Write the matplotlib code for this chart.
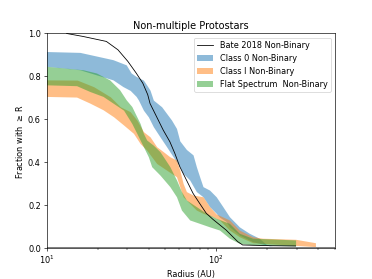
import numpy as np
import matplotlib
matplotlib.use("Agg")
import matplotlib.pyplot as plt

# Bate 2018 curve
bate_r = [13.15, 16.46, 22.53, 26.37, 30.17, 33.75, 36.92, 39.5, 40.75, 44.58, 48.76,
          53.34, 57.05, 61.03, 66.76, 73.03, 79.89, 87.4, 95.6, 104.6, 114.4, 125.2,
          133.9, 143.2, 214.5, 293.7]
bate_f = [1.0, 0.986, 0.963, 0.924, 0.87, 0.816, 0.769, 0.715, 0.674, 0.612, 0.55,
          0.496, 0.442, 0.38, 0.318, 0.256, 0.209, 0.163, 0.135, 0.11, 0.085, 0.054,
          0.031, 0.0155, 0.012, 0.011]

# Class 0 band
c0_up_r = [10, 15.74, 24.65, 29.5, 31.55, 33.75, 37.25, 38.96, 40.75, 42.62, 47.7,
           51.0, 54.56, 58.35, 61.03, 66.76, 73.03, 76.4, 79.89, 83.6, 91.4, 100,
           109.4, 119.7, 130.9, 136.9, 156.7, 179.2, 196.1, 214.5]
c0_up_f = [0.916, 0.912, 0.878, 0.854, 0.816, 0.80, 0.783, 0.76, 0.736, 0.69, 0.659,
           0.628, 0.597, 0.558, 0.50, 0.46, 0.435, 0.38, 0.333, 0.287, 0.271, 0.24,
           0.194, 0.147, 0.116, 0.10, 0.07, 0.047, 0.02, 0.008]
c0_lo_r = [10, 15.74, 24.65, 28.2, 31.13, 33.75, 34.83, 37.25, 39.84, 42.62, 46.63,
           51.0, 55.79, 61.03, 63.83, 69.8, 76.4, 83.6, 91.4, 100, 104.6, 114.4,
           119.7, 136.9, 163.9, 196.1, 214.5]
c0_lo_f = [0.847, 0.831, 0.784, 0.753, 0.735, 0.707, 0.69, 0.643, 0.612, 0.566, 0.519,
           0.473, 0.426, 0.38, 0.349, 0.318, 0.264, 0.24, 0.194, 0.163, 0.145, 0.125,
           0.10, 0.062, 0.031, 0.016, 0.008]

# Class I band
c1_up_r = [10, 15.18, 19.0, 23.78, 27.2, 31.13, 34.06, 37.25, 40.75, 44.58, 48.76,
           53.34, 58.35, 61.03, 63.83, 66.76, 73.03, 83.6, 91.4, 100, 119.7, 136.9,
           163.9, 187.5, 293.7, 384.5]
c1_up_f = [0.784, 0.783, 0.752, 0.705, 0.659, 0.636, 0.597, 0.543, 0.519, 0.473, 0.45,
           0.426, 0.411, 0.364, 0.302, 0.264, 0.248, 0.24, 0.194, 0.16, 0.132, 0.085,
           0.054, 0.047, 0.042, 0.026]
c1_lo_r = [10, 15.04, 18.0, 21.54, 24.87, 28.46, 32.56, 35.62, 38.96, 44.58, 51.0,
           58.35, 63.83, 69.8, 76.4, 83.6, 95.6, 104.6, 119.7, 136.9, 163.9, 384.5]
c1_lo_f = [0.707, 0.704, 0.676, 0.645, 0.612, 0.574, 0.535, 0.488, 0.457, 0.395, 0.364,
           0.333, 0.24, 0.209, 0.178, 0.163, 0.147, 0.132, 0.085, 0.054, 0.026, 0.008]

# Flat Spectrum band
fs_up_r = [10, 16.46, 19.7, 23.56, 26.97, 29.5, 31.83, 33.3, 35.62, 37.25, 38.96,
           42.62, 46.63, 53.34, 58.35, 62.42, 66.76, 76.4, 87.4, 100, 119.7, 136.9,
           163.9, 293.7]
fs_up_f = [0.847, 0.831, 0.816, 0.784, 0.738, 0.691, 0.66, 0.628, 0.581, 0.535, 0.504,
           0.48, 0.45, 0.38, 0.318, 0.264, 0.225, 0.194, 0.163, 0.14, 0.116, 0.07,
           0.047, 0.039]
fs_lo_r = [10, 15.04, 18.0, 21.54, 24.65, 28.46, 31.83, 34.06, 37.25, 39.84, 41.68,
           46.63, 53.34, 58.35, 62.42, 69.8, 79.89, 91.4, 104.6, 119.7, 136.9, 163.9,
           293.7]
fs_lo_f = [0.761, 0.757, 0.73, 0.707, 0.676, 0.643, 0.581, 0.535, 0.473, 0.426, 0.38,
           0.341, 0.287, 0.24, 0.178, 0.132, 0.116, 0.10, 0.085, 0.047, 0.023, 0.016,
           0.011]


def band(ax, r_up, f_up, r_lo, f_lo, color, label):
    # common radius grid so both edges can be filled together
    grid = np.union1d(r_up, r_lo)
    grid = grid[grid <= max(r_up[-1], r_lo[-1])]
    lg = np.log10(grid)
    up = np.interp(lg, np.log10(r_up), f_up)
    lo = np.interp(lg, np.log10(r_lo), f_lo)
    ax.fill_between(grid, lo, up, color=color, alpha=0.5, lw=0, label=label)


fig, ax = plt.subplots(figsize=(6.4, 4.8), dpi=58.125)

ax.plot(bate_r, bate_f, color="black", lw=1, label="Bate 2018 Non-Binary")
band(ax, c0_up_r, c0_up_f, c0_lo_r, c0_lo_f, "C0", "Class 0 Non-Binary")
band(ax, c1_up_r, c1_up_f, c1_lo_r, c1_lo_f, "C1", "Class I Non-Binary")
band(ax, fs_up_r, fs_up_f, fs_lo_r, fs_lo_f, "C2", "Flat Spectrum  Non-Binary")
ax.axhline(0, color="gray", lw=2.5, zorder=1)

ax.set_xscale("log")
ax.set_xlim(10, 500)
ax.set_ylim(0, 1)
ax.set_title("Non-multiple Protostars")
ax.set_xlabel("Radius (AU)")
ax.set_ylabel(r"Fraction with $\geq$ R")
ax.legend(loc="upper right")

fig.savefig("out.png")
